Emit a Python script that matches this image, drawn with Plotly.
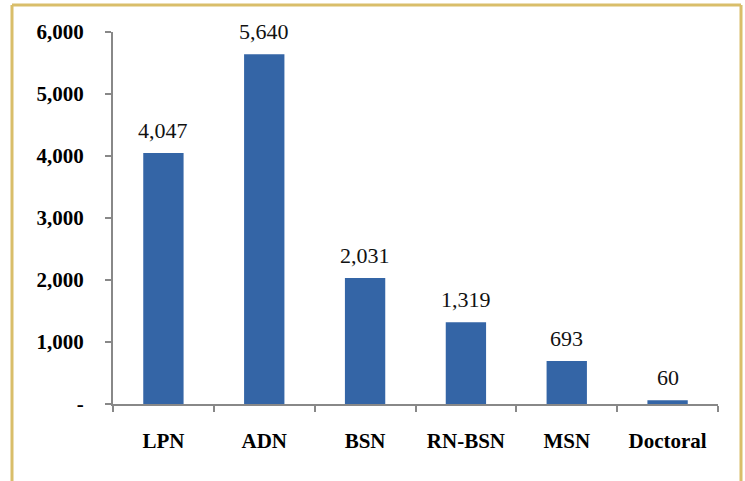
import plotly.graph_objects as go

categories = ["LPN", "ADN", "BSN", "RN-BSN", "MSN", "Doctoral"]
values = [4047, 5640, 2031, 1319, 693, 60]
value_labels = ["4,047", "5,640", "2,031", "1,319", "693", "60"]
y_tickvals = [0, 1000, 2000, 3000, 4000, 5000, 6000]
y_ticktext = ["-", "1,000", "2,000", "3,000", "4,000", "5,000", "6,000"]

W, H = 745, 481
L, R, T, B = 113, 745 - 718, 32, 481 - 404
pw, ph = W - L - R, H - T - B

fig = go.Figure(go.Bar(
    x=categories, y=values,
    marker=dict(color="#3465a6", line=dict(width=0)),
    hoverinfo="x+y",
))

for c, v, lab in zip(categories, values, value_labels):
    fig.add_annotation(x=c, y=v, text=lab, showarrow=False,
                       yanchor="bottom", yshift=8,
                       font=dict(family="Liberation Serif", size=22, color="#111111"))

def px_x(p):
    return (p - L) / pw

def px_y(p):
    return (H - B - p) / ph

gold = "#d9be6a"
for x0, y0, x1, y1 in [(12, 5, 741, 5), (12, 5, 12, 490), (741, 5, 741, 490)]:
    fig.add_shape(type="line", xref="paper", yref="paper",
                  x0=px_x(x0), y0=px_y(y0), x1=px_x(x1), y1=px_y(y1),
                  line=dict(color=gold, width=3))

fig.update_layout(
    width=W, height=H,
    margin=dict(l=L, r=R, t=T, b=B),
    paper_bgcolor="white", plot_bgcolor="white",
    bargap=0.6, showlegend=False,
    font=dict(family="Liberation Serif", color="#000000"),
    xaxis=dict(
        showline=True, linecolor="#888888", linewidth=2,
        ticks="outside", ticklen=6, tickcolor="#888888", tickwidth=1.5,
        tickson="boundaries", showgrid=False,
        tickfont=dict(family="Liberation Serif", size=21, color="#000000", weight="bold"),
        ticklabelstandoff=17,
    ),
    yaxis=dict(
        range=[0, 6000], tickvals=y_tickvals, ticktext=y_ticktext,
        showline=True, linecolor="#888888", linewidth=2,
        ticks="outside", ticklen=6, tickcolor="#888888", tickwidth=1.5,
        showgrid=False, zeroline=False,
        tickfont=dict(family="Liberation Serif", size=21, color="#000000", weight="bold"),
        ticklabelstandoff=17,
    ),
)

fig.write_html("out.html", config={"displayModeBar": False},
               post_script="document.body.style.margin='0px';document.body.style.overflow='hidden';")
